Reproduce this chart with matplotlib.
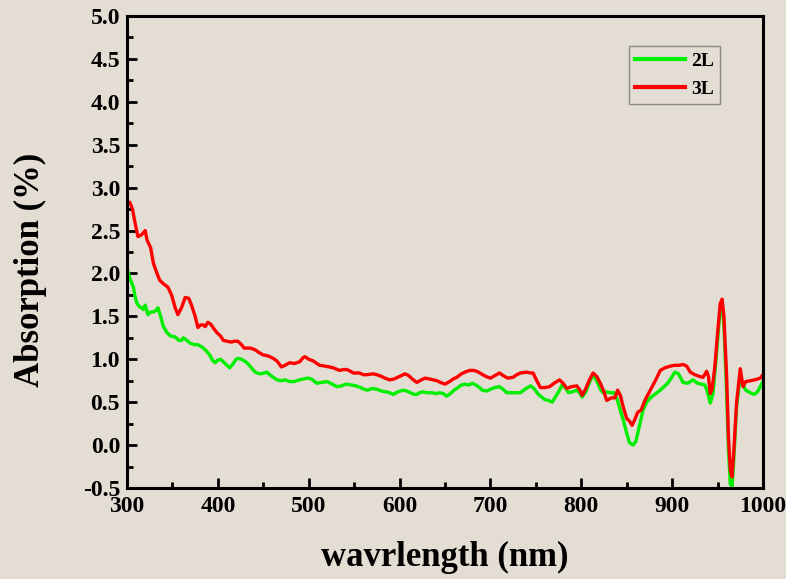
import matplotlib
matplotlib.use("Agg")
import matplotlib.pyplot as plt
from matplotlib.ticker import MultipleLocator

# Absorption spectra of the two- and three-layer samples
wl_2L = [300, 303, 307, 309, 311, 314, 316, 318, 320, 323, 326, 329, 332, 334, 337, 340,
         344, 348, 353, 357, 360, 362, 366, 369, 374, 378, 383, 387, 391, 394, 397, 400,
         403, 406, 410, 413, 417, 420, 422, 426, 429, 432, 437, 440, 443, 447, 451, 454,
         457, 461, 465, 470, 474, 479, 484, 490, 494, 499, 503, 509, 514, 520, 526, 531,
         536, 541, 547, 552, 557, 561, 565, 570, 575, 580, 585, 589, 593, 598, 604, 608,
         612, 616, 619, 622, 626, 630, 635, 640, 644, 648, 652, 656, 660, 663, 668, 672,
         676, 680, 684, 688, 691, 696, 700, 705, 710, 714, 718, 722, 727, 733, 738, 744,
         748, 752, 755, 760, 764, 768, 772, 775, 779, 783, 786, 790, 795, 798, 801, 805,
         809, 813, 817, 821, 824, 828, 832, 836, 839, 842, 846, 850, 853, 857, 860, 864,
         868, 872, 877, 882, 887, 891, 895, 899, 903, 907, 912, 917, 923, 928, 932, 936,
         939, 942, 945, 948, 951, 953, 955, 957, 960, 962, 964, 966, 968, 971, 975, 978,
         981, 986, 990, 994, 997, 1000]
abs_2L = [2.07, 1.95, 1.84, 1.72, 1.65, 1.61, 1.60, 1.58, 1.63, 1.52, 1.55, 1.55, 1.57, 1.60, 1.50, 1.38,
          1.31, 1.27, 1.26, 1.22, 1.22, 1.25, 1.22, 1.19, 1.17, 1.17, 1.14, 1.10, 1.05, 0.99, 0.96, 0.99,
          1.00, 0.97, 0.93, 0.90, 0.95, 1.00, 1.01, 1.00, 0.98, 0.96, 0.90, 0.86, 0.84, 0.83, 0.84, 0.85,
          0.82, 0.79, 0.76, 0.75, 0.76, 0.74, 0.74, 0.76, 0.77, 0.78, 0.77, 0.72, 0.73, 0.74, 0.71, 0.68,
          0.69, 0.71, 0.70, 0.69, 0.67, 0.65, 0.64, 0.66, 0.65, 0.63, 0.62, 0.61, 0.59, 0.62, 0.64, 0.63,
          0.61, 0.59, 0.59, 0.61, 0.62, 0.61, 0.61, 0.60, 0.61, 0.60, 0.57, 0.60, 0.64, 0.66, 0.70, 0.71,
          0.70, 0.72, 0.70, 0.67, 0.64, 0.63, 0.65, 0.67, 0.68, 0.65, 0.61, 0.61, 0.61, 0.61, 0.65, 0.69,
          0.66, 0.60, 0.57, 0.53, 0.52, 0.50, 0.57, 0.62, 0.70, 0.66, 0.61, 0.62, 0.64, 0.61, 0.56, 0.62,
          0.73, 0.82, 0.75, 0.65, 0.61, 0.62, 0.61, 0.61, 0.55, 0.44, 0.30, 0.14, 0.03, 0.00, 0.04, 0.22,
          0.41, 0.50, 0.56, 0.60, 0.64, 0.68, 0.72, 0.78, 0.85, 0.83, 0.73, 0.72, 0.76, 0.72, 0.71, 0.70,
          0.62, 0.49, 0.60, 0.95, 1.35, 1.61, 1.62, 1.40, 0.60, -0.05, -0.45, -0.49, -0.15, 0.45, 0.80, 0.70,
          0.64, 0.61, 0.59, 0.62, 0.68, 0.74]

wl_3L = [300, 303, 306, 309, 312, 316, 320, 322, 326, 329, 333, 336, 340, 345, 349, 353,
         356, 360, 364, 368, 371, 375, 378, 381, 384, 386, 389, 392, 396, 399, 403, 406,
         410, 415, 418, 422, 426, 429, 432, 436, 441, 445, 450, 455, 461, 465, 470, 474,
         479, 484, 490, 494, 496, 500, 505, 509, 512, 518, 523, 527, 534, 538, 542, 546,
         549, 556, 560, 564, 571, 575, 580, 584, 589, 594, 600, 606, 610, 614, 619, 624,
         628, 633, 637, 641, 645, 650, 655, 659, 663, 668, 672, 677, 681, 685, 690, 695,
         700, 705, 710, 714, 719, 725, 729, 733, 740, 744, 747, 751, 755, 760, 765, 770,
         776, 780, 784, 789, 795, 798, 801, 805, 809, 813, 817, 821, 825, 828, 833, 837,
         840, 843, 846, 850, 853, 856, 859, 862, 866, 870, 876, 882, 887, 892, 898, 903,
         908, 912, 916, 920, 925, 930, 934, 938, 940, 942, 944, 947, 950, 953, 955, 957,
         960, 962, 964, 966, 968, 971, 975, 978, 981, 986, 991, 997, 1000]
abs_3L = [2.81, 2.83, 2.75, 2.58, 2.43, 2.45, 2.50, 2.39, 2.30, 2.12, 2.00, 1.92, 1.88, 1.84, 1.75, 1.60,
          1.52, 1.60, 1.72, 1.71, 1.63, 1.50, 1.37, 1.40, 1.40, 1.38, 1.43, 1.41, 1.35, 1.31, 1.27, 1.22,
          1.21, 1.20, 1.21, 1.21, 1.17, 1.13, 1.13, 1.13, 1.11, 1.08, 1.05, 1.04, 1.01, 0.98, 0.91, 0.93,
          0.96, 0.95, 0.97, 1.02, 1.03, 1.00, 0.98, 0.95, 0.93, 0.92, 0.91, 0.90, 0.87, 0.88, 0.88, 0.86,
          0.84, 0.84, 0.82, 0.82, 0.83, 0.82, 0.80, 0.78, 0.76, 0.77, 0.80, 0.83, 0.81, 0.77, 0.73, 0.76,
          0.78, 0.77, 0.76, 0.75, 0.73, 0.71, 0.74, 0.77, 0.79, 0.83, 0.85, 0.87, 0.87, 0.86, 0.83, 0.80,
          0.78, 0.81, 0.84, 0.81, 0.78, 0.79, 0.82, 0.84, 0.85, 0.84, 0.84, 0.75, 0.67, 0.67, 0.68, 0.72,
          0.76, 0.72, 0.66, 0.68, 0.69, 0.65, 0.58, 0.66, 0.76, 0.84, 0.80, 0.72, 0.62, 0.52, 0.55, 0.55,
          0.64, 0.58, 0.45, 0.31, 0.28, 0.23, 0.30, 0.38, 0.41, 0.52, 0.64, 0.76, 0.87, 0.90, 0.92, 0.93,
          0.93, 0.94, 0.92, 0.85, 0.82, 0.80, 0.79, 0.86, 0.80, 0.60, 0.65, 0.91, 1.30, 1.65, 1.70, 1.50,
          0.80, 0.10, -0.29, -0.37, -0.05, 0.50, 0.89, 0.68, 0.74, 0.75, 0.76, 0.78, 0.82]

series_labels = ["2L", "3L"]
series_colors = ["#00ee00", "#ff0000"]
x_ticks = [300, 400, 500, 600, 700, 800, 900, 1000]
y_ticks = [-0.5, 0.0, 0.5, 1.0, 1.5, 2.0, 2.5, 3.0, 3.5, 4.0, 4.5, 5.0]

bg = "#e3ddd3"
serif = ["Liberation Serif", "DejaVu Serif"]

fig = plt.figure(figsize=(7.86, 5.79), dpi=100, facecolor=bg)
ax = fig.add_axes([0.1616, 0.1572, 0.8091, 0.8152], facecolor=bg)

ax.plot(wl_2L, abs_2L, color=series_colors[0], lw=2.4, label=series_labels[0],
        solid_joinstyle="round")
ax.plot(wl_3L, abs_3L, color=series_colors[1], lw=2.4, label=series_labels[1],
        solid_joinstyle="round")

ax.set_xlim(300, 1000)
ax.set_ylim(-0.5, 5.0)
ax.set_xticks(x_ticks)
ax.set_yticks(y_ticks)
ax.set_xticklabels([str(v) for v in x_ticks])
ax.set_yticklabels([f"{v:.1f}" for v in y_ticks])
ax.xaxis.set_minor_locator(MultipleLocator(50))
ax.yaxis.set_minor_locator(MultipleLocator(0.25))

for s in ax.spines.values():
    s.set_linewidth(2.2)
    s.set_color("black")

ax.tick_params(which="both", direction="in", top=False, right=False, width=2.0,
               color="black")
ax.tick_params(which="major", length=7)
ax.tick_params(which="minor", length=4.5)
ax.tick_params(axis="x", which="major", pad=6)
ax.tick_params(axis="y", which="major", pad=5)
for lbl in ax.get_xticklabels() + ax.get_yticklabels():
    lbl.set_fontfamily(serif)
    lbl.set_fontweight("bold")
    lbl.set_fontsize(17)

ax.set_xlabel("wavrlength (nm)", fontfamily=serif, fontweight="bold", fontsize=25,
              labelpad=17)
ax.set_ylabel("Absorption (%)", fontfamily=serif, fontweight="bold", fontsize=25)
ax.yaxis.set_label_coords(-0.126, 0.462)

leg = ax.legend(loc="upper right", bbox_to_anchor=(0.932, 0.936), fancybox=False,
                framealpha=1, facecolor=bg, edgecolor="#8a8a8a", handlelength=2.6,
                handletextpad=0.3, borderpad=0.3, labelspacing=0.55, borderaxespad=0,
                prop={"family": serif, "weight": "bold", "size": 14})
leg.get_frame().set_linewidth(1.0)
for h in leg.get_lines():
    h.set_linewidth(3)

fig.savefig("out.png", dpi=100, facecolor=bg)
